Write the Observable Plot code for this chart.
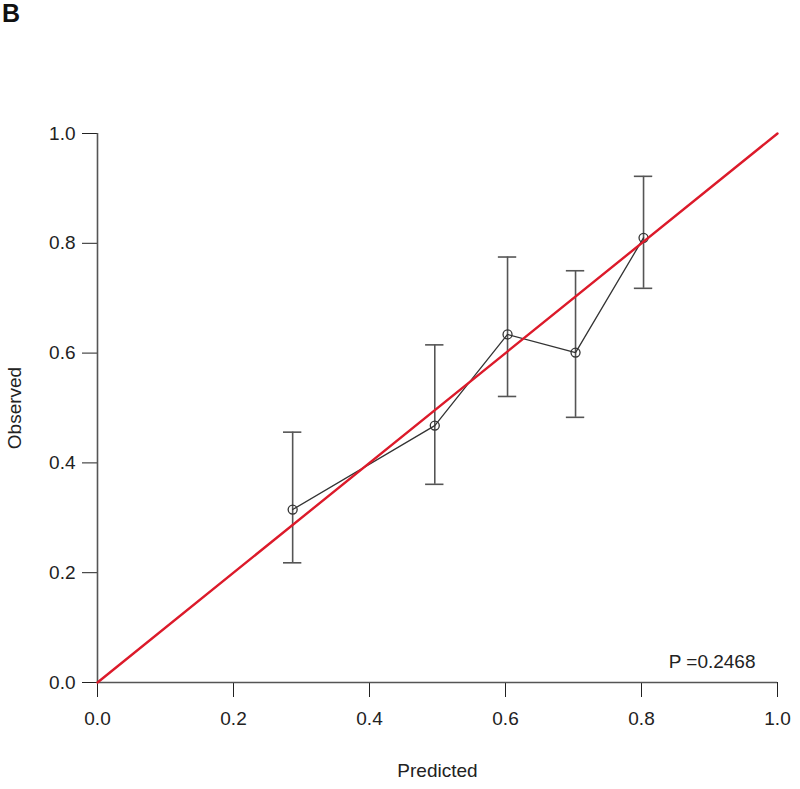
<!DOCTYPE html>
<html>
<head>
<meta charset="utf-8">
<script src="https://cdn.jsdelivr.net/npm/d3@7"></script>
<script src="https://cdn.jsdelivr.net/npm/@observablehq/plot@0.6"></script>
<style>
  html, body { margin: 0; padding: 0; background: #fff; }
  #wrap { position: relative; width: 800px; height: 789px; font-family: "Liberation Sans", Arial, sans-serif; }
  #panel { position: absolute; left: 2px; top: -1px; font-size: 25px; font-weight: bold; color: #111; }
  #chart { position: absolute; left: 0; top: 0; }
</style>
</head>
<body>
<div id="wrap">
  <div id="chart"></div>
  <div id="panel">B</div>
</div>
<script>
const predicted = [0.287, 0.496, 0.603, 0.703, 0.803];
const observed  = [0.315, 0.468, 0.634, 0.601, 0.810];
const lower     = [0.218, 0.361, 0.521, 0.483, 0.718];
const upper     = [0.456, 0.615, 0.775, 0.750, 0.922];
const ticks     = [0, 0.2, 0.4, 0.6, 0.8, 1.0];
const diagonal  = [0, 1];
const pLabel    = "P =0.2468";

const data = predicted.map((x, i) => ({x, y: observed[i], lo: lower[i], hi: upper[i]}));
const capHalf = 0.0135;

const chart = Plot.plot({
  width: 800,
  height: 789,
  marginLeft: 97,
  marginRight: 23,
  marginTop: 133,
  marginBottom: 107,
  style: {fontFamily: "'Liberation Sans', Arial, sans-serif", fontSize: "19px", color: "#222", background: "#fff"},
  x: {domain: [0, 1], ticks: ticks, tickFormat: d3.format(".1f"), tickSize: 15, tickPadding: 14, label: "Predicted", labelArrow: "none", labelAnchor: "center", labelOffset: 94},
  y: {domain: [0, 1], ticks: ticks, tickFormat: d3.format(".1f"), tickSize: 15, tickPadding: 7, label: "Observed", labelArrow: "none", labelAnchor: "center", labelOffset: 90},
  marks: [
    Plot.ruleY([0], {stroke: "#555", strokeWidth: 1.6}),
    Plot.ruleX([0], {stroke: "#555", strokeWidth: 1.6}),
    Plot.ruleX(data, {x: "x", y1: "lo", y2: "hi", stroke: "#555", strokeWidth: 1.6}),
    Plot.ruleY(data, {y: "lo", x1: d => d.x - capHalf, x2: d => d.x + capHalf, stroke: "#555", strokeWidth: 1.6}),
    Plot.ruleY(data, {y: "hi", x1: d => d.x - capHalf, x2: d => d.x + capHalf, stroke: "#555", strokeWidth: 1.6}),
    Plot.line(data, {x: "x", y: "y", stroke: "#333", strokeWidth: 1.3}),
    Plot.dot(data, {x: "x", y: "y", r: 4.5, stroke: "#333", strokeWidth: 1.3, fill: "none"}),
    Plot.line(diagonal.map(v => ({v})), {x: "v", y: "v", stroke: "#dc1a2a", strokeWidth: 2.4}),
    Plot.text([pLabel], {frameAnchor: "bottom-right", dx: -22, dy: -15, fontSize: 19, fill: "#222", textAnchor: "end"})
  ]
});
document.getElementById("chart").appendChild(chart);
</script>
</body>
</html>
